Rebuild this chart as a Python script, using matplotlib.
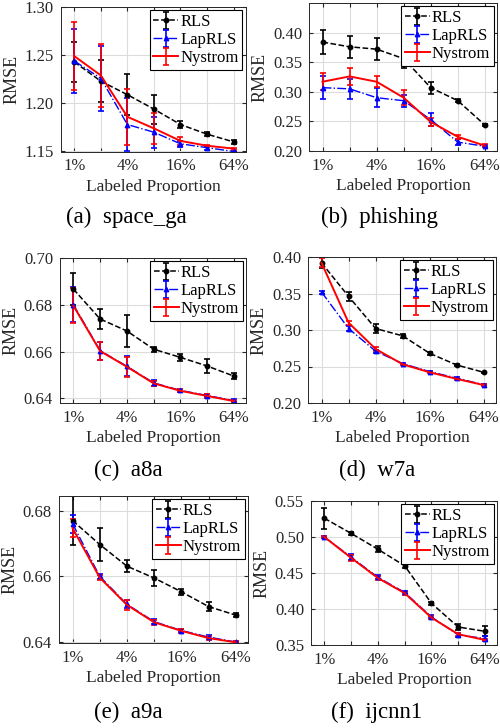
"""
RMSE versus labeled proportion for RLS, LapRLS and Nystrom on six datasets.
"""

from typing import List, Tuple
import matplotlib
matplotlib.use("Agg")
import matplotlib.pyplot as plt

# shared x axis
label_prop = [1, 2, 4, 8, 16, 32, 64]
xtick_vals = [1, 4, 16, 64]
xtick_labels = ["1%", "4%", "16%", "64%"]
method_names = ["RLS", "LapRLS", "Nystrom"]

# (a) space_ga
space_ga_rls = [1.243, 1.223, 1.209, 1.194, 1.178, 1.168, 1.160]
space_ga_rls_err = [0.021, 0.022, 0.021, 0.015, 0.004, 0.002, 0.002]
space_ga_lap = [1.244, 1.226, 1.178, 1.170, 1.158, 1.154, 1.150]
space_ga_lap_err = [0.033, 0.034, 0.028, 0.016, 0.003, 0.002, 0.001]
space_ga_nys = [1.249, 1.229, 1.186, 1.174, 1.161, 1.156, 1.153]
space_ga_nys_err = [0.035, 0.033, 0.029, 0.016, 0.004, 0.001, 0.001]

# (b) phishing
phishing_rls = [0.384, 0.376, 0.372, 0.356, 0.307, 0.285, 0.244]
phishing_rls_err = [0.020, 0.019, 0.019, 0.016, 0.010, 0.003, 0.002]
phishing_lap = [0.307, 0.305, 0.290, 0.285, 0.253, 0.215, 0.208]
phishing_lap_err = [0.020, 0.017, 0.016, 0.010, 0.011, 0.005, 0.002]
phishing_nys = [0.317, 0.326, 0.317, 0.290, 0.249, 0.224, 0.209]
phishing_nys_err = [0.014, 0.014, 0.009, 0.013, 0.006, 0.003, 0.002]

# (c) a8a
a8a_rls = [0.6867, 0.6739, 0.6688, 0.6610, 0.6575, 0.6538, 0.6495]
a8a_rls_err = [0.0067, 0.0042, 0.0069, 0.0010, 0.0016, 0.0030, 0.0012]
a8a_lap = [0.6800, 0.6604, 0.6537, 0.6466, 0.6434, 0.6412, 0.6390]
a8a_lap_err = [0.0075, 0.0038, 0.0043, 0.0012, 0.0007, 0.0007, 0.0005]
a8a_nys = [0.6796, 0.6602, 0.6535, 0.6464, 0.6432, 0.6410, 0.6388]
a8a_nys_err = [0.0075, 0.0038, 0.0043, 0.0012, 0.0007, 0.0007, 0.0005]

# (d) w7a
w7a_rls = [0.392, 0.346, 0.302, 0.292, 0.268, 0.252, 0.242]
w7a_rls_err = [0.0076, 0.006, 0.006, 0.003, 0.002, 0.001, 0.001]
w7a_lap = [0.352, 0.302, 0.271, 0.254, 0.243, 0.234, 0.225]
w7a_lap_err = [0.002, 0.003, 0.002, 0.001, 0.001, 0.001, 0.001]
w7a_nys = [0.392, 0.310, 0.274, 0.253, 0.242, 0.233, 0.2245]
w7a_nys_err = [0.006, 0.003, 0.003, 0.001, 0.001, 0.001, 0.001]

# (e) a9a
a9a_rls = [0.6770, 0.6697, 0.6631, 0.6595, 0.6553, 0.6508, 0.6482]
a9a_rls_err = [0.0074, 0.0050, 0.0019, 0.0025, 0.0010, 0.0014, 0.0006]
a9a_lap = [0.6760, 0.6600, 0.6515, 0.6462, 0.6435, 0.6415, 0.6400]
a9a_lap_err = [0.0027, 0.0007, 0.0012, 0.0007, 0.0005, 0.0005, 0.0003]
a9a_nys = [0.6747, 0.6596, 0.6513, 0.6460, 0.6434, 0.6412, 0.6399]
a9a_nys_err = [0.0027, 0.0007, 0.0015, 0.0007, 0.0005, 0.0006, 0.0003]

# (f) ijcnn1
ijcnn1_rls = [0.526, 0.505, 0.483, 0.460, 0.408, 0.375, 0.369]
ijcnn1_rls_err = [0.0145, 0.002, 0.004, 0.003, 0.002, 0.0045, 0.007]
ijcnn1_lap = [0.500, 0.472, 0.444, 0.423, 0.389, 0.364, 0.359]
ijcnn1_lap_err = [0.002, 0.004, 0.003, 0.002, 0.002, 0.003, 0.003]
ijcnn1_nys = [0.500, 0.471, 0.443, 0.422, 0.388, 0.365, 0.357]
ijcnn1_nys_err = [0.002, 0.004, 0.003, 0.002, 0.002, 0.002, 0.002]

W, H = 500, 728
TXT = "#262626"

plt.rcParams["font.family"] = ["Liberation Serif", "DejaVu Serif"]


def px_axes(fig, left: float, right: float, top: float, bottom: float):
    """Add axes given pixel edges (origin top-left)."""
    return fig.add_axes([left / W, 1 - bottom / H, (right - left) / W, (bottom - top) / H])


def plot_panel(
    ax,
    series: List[Tuple[List[float], List[float]]],
    ylim: Tuple[float, float],
    yticks: List[float],
) -> None:
    """Draw the three methods with error bars on one axes."""
    styles = [
        dict(color="black", ls="--", marker="o", ms=3.2, lw=1.1),
        dict(color="blue", ls="-.", marker="^", ms=3.2, lw=1.0),
        dict(color="red", ls="-", marker="none", ms=4, lw=1.4),
    ]
    for (mean, err), st, name in zip(series, styles, method_names):
        ax.errorbar(label_prop, mean, yerr=err, capsize=2.4, elinewidth=1.2,
                    capthick=1.2, label=name, **st)

    ax.set_xscale("log", base=2)
    ax.set_xlim(2 ** -0.5, 2 ** 6.45)
    ax.set_xticks(label_prop)
    ax.set_xticklabels([xtick_labels[xtick_vals.index(v)] if v in xtick_vals else ""
                        for v in label_prop])
    ax.minorticks_off()
    ax.set_ylim(*ylim)
    ax.set_yticks(yticks)
    ax.set_yticklabels([f"{t:.2f}" for t in yticks])

    ax.grid(True, color="#dcdcdc", lw=0.8)
    ax.set_axisbelow(True)
    ax.tick_params(direction="in", length=3, labelsize=12, colors=TXT,
                   top=True, right=True, pad=5)
    for sp in ax.spines.values():
        sp.set_color(TXT)
        sp.set_linewidth(0.7)

    ax.set_xlabel("Labeled Proportion", fontsize=12.5, color=TXT, labelpad=3)
    ax.set_ylabel("RMSE", fontsize=13, color=TXT, labelpad=3)

    leg = ax.legend(loc="upper right", fontsize=12, frameon=True, fancybox=False,
                    borderpad=0.22, labelspacing=0.12, handlelength=1.5,
                    handletextpad=0.1, borderaxespad=0.2, framealpha=1)
    leg.get_frame().set_edgecolor("black")
    leg.get_frame().set_linewidth(0.8)


fig = plt.figure(figsize=(W / 100, H / 100), dpi=100)

panels = [
    ((61, 245.5, 7, 151.5), [(space_ga_rls, space_ga_rls_err), (space_ga_lap, space_ga_lap_err),
                             (space_ga_nys, space_ga_nys_err)],
     (1.15, 1.30), [1.15, 1.20, 1.25, 1.30], "(a)  space_ga", (126, 217)),
    ((309, 497, 3, 151), [(phishing_rls, phishing_rls_err), (phishing_lap, phishing_lap_err),
                          (phishing_nys, phishing_nys_err)],
     (0.20, 0.45), [0.20, 0.25, 0.30, 0.35, 0.40], "(b)  phishing", (379, 217)),
    ((60, 246, 258, 403), [(a8a_rls, a8a_rls_err), (a8a_lap, a8a_lap_err), (a8a_nys, a8a_nys_err)],
     (0.638, 0.70), [0.64, 0.66, 0.68, 0.70], "(c)  a8a", (128, 470)),
    ((308, 496, 257, 403), [(w7a_rls, w7a_rls_err), (w7a_lap, w7a_lap_err), (w7a_nys, w7a_nys_err)],
     (0.20, 0.40), [0.20, 0.25, 0.30, 0.35, 0.40], "(d)  w7a", (377, 470)),
    ((59, 248, 496, 643), [(a9a_rls, a9a_rls_err), (a9a_lap, a9a_lap_err), (a9a_nys, a9a_nys_err)],
     (0.6397, 0.6845), [0.64, 0.66, 0.68], "(e)  a9a", (128, 712)),
    ((311, 497, 501, 645), [(ijcnn1_rls, ijcnn1_rls_err), (ijcnn1_lap, ijcnn1_lap_err),
                            (ijcnn1_nys, ijcnn1_nys_err)],
     (0.35, 0.55), [0.35, 0.40, 0.45, 0.50, 0.55], "(f)  ijcnn1", (377, 712)),
]

for box, series, ylim, yticks, caption, (cx, cy) in panels:
    ax = px_axes(fig, *box)
    plot_panel(ax, series, ylim, yticks)
    fig.text(cx / W, 1 - cy / H, caption, ha="center", va="center", fontsize=16.5, color="black")

plt.savefig("out.png", dpi=100)
